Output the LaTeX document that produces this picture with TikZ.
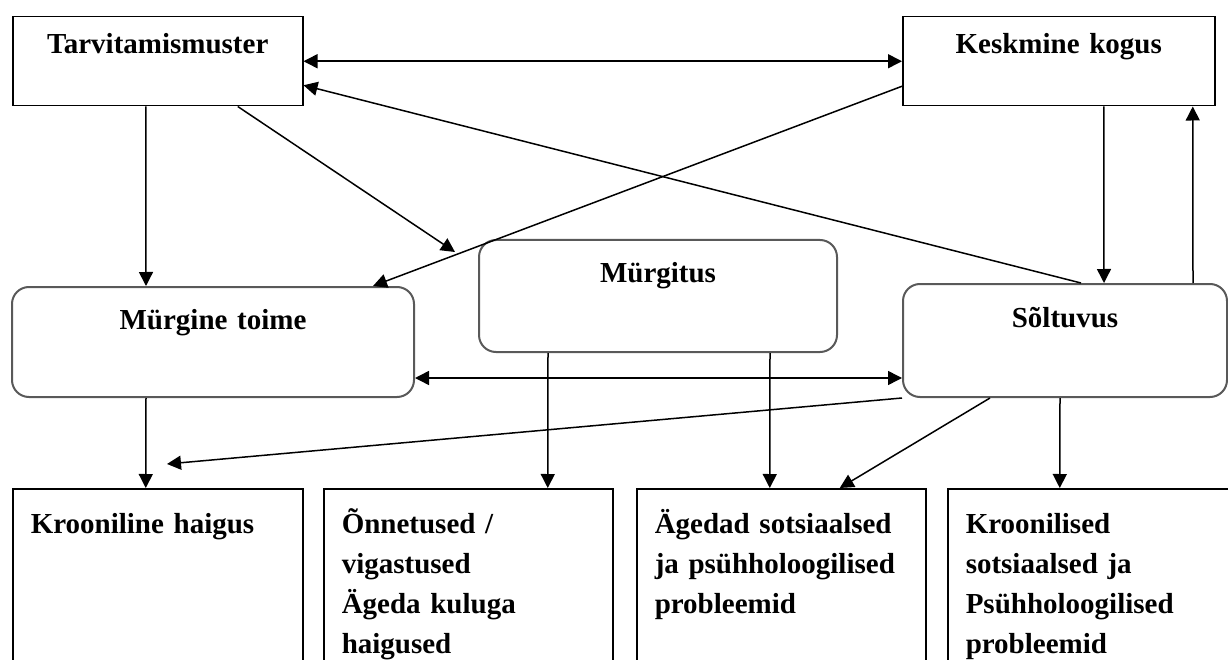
\documentclass[tikz,border=0pt]{standalone}
\usepackage{fontspec}
\setmainfont{Liberation Serif}
\usetikzlibrary{arrows.meta}

\begin{document}
\begin{tikzpicture}[x=1pt,y=-1pt,font=\fontsize{29}{40}\selectfont\bfseries,
	kast/.style={draw=black, line width=1.5pt, inner sep=0pt, anchor=north west},
	ymarkast/.style={draw=gray!70!black, line width=2pt, rounded corners=17pt, inner sep=0pt, anchor=north west, align=center},
	alakast/.style={kast, inner xsep=18pt, inner ysep=0pt, align=left, text height=45pt, text depth=200pt},
	nool/.style={line width=1.5pt, -{Triangle[length=14pt,width=14pt]}},
	kahenool/.style={line width=1.5pt, {Triangle[length=14pt,width=14pt]}-{Triangle[length=14pt,width=14pt]}}]
	\useasboundingbox (0,0) rectangle (1228,660);
	\clip (0,0) rectangle (1228,660);

	% Ylemised kastid
	\node[kast, text width=290pt, align=center, text height=37pt, text depth=52pt] (tarv) at (12,16) {Tarvitamismuster};
	\node[kast, text width=312pt, align=center, text height=37pt, text depth=52pt] (kesk) at (902,16) {Keskmine kogus};

	% Keskmised kastid
	\node[ymarkast, text width=402pt, text height=42pt, text depth=68pt] (toime) at (11,286) {Mürgine toime};
	\node[ymarkast, text width=358pt, text height=43pt, text depth=69pt] (myrg) at (478,239) {Mürgitus};
	\node[ymarkast, text width=324pt, text height=43pt, text depth=70pt] (solt) at (902,283) {Sõltuvus};

	% Alumised kastid
	\node[alakast, text width=254pt] (haigus) at (12,488) {Krooniline haigus};
	\node[alakast, text width=253pt] (onn) at (323,488) {Õnnetused /\\ vigastused\\ Ägeda kuluga\\ haigused};
	\node[alakast, text width=253pt] (aged) at (636,488) {Ägedad sotsiaalsed\\ ja psühholoogilised\\ probleemid};
	\node[alakast, text width=264pt] (kroon) at (947,488) {Kroonilised\\ sotsiaalsed ja\\ Psühholoogilised\\ probleemid};

	% Vabad otsad
	\coordinate (mtip) at (455,252);
	\coordinate (htip) at (167,464);

	% Nooled
	\draw[kahenool] (tarv.east) -- (kesk.west);
	\draw[nool] ([xshift=16pt]solt.north) -- ([yshift=-24pt]tarv.east);
	\draw[nool] ([yshift=-25pt]kesk.west) -- ([xshift=160pt]toime.north);
	\draw[nool] ([xshift=80pt]tarv.south) -- (mtip);
	\draw[nool] ([xshift=-12pt]tarv.south) -- ([xshift=-67pt]toime.north);
	\draw[nool] ([xshift=45pt]kesk.south) -- ([xshift=39pt]solt.north);
	\draw[nool] ([xshift=128pt]solt.north) -- ([xshift=134pt]kesk.south);
	\draw[kahenool] ([yshift=-36pt]toime.east) -- ([yshift=-37.5pt]solt.west);
	\draw[nool] ([xshift=-67pt]toime.south) -- ([xshift=-12pt]haigus.north);
	\draw[nool] (solt.south west) -- (htip);
	\draw[nool] ([xshift=-110pt]myrg.south) -- ([xshift=79.5pt]onn.north);
	\draw[nool] ([xshift=112pt]myrg.south) -- ([xshift=-11.5pt]aged.north);
	\draw[nool] ([xshift=88pt]solt.south west) -- ([xshift=58.5pt]aged.north);
	\draw[nool] ([xshift=-5pt]solt.south) -- ([xshift=-38pt]kroon.north);
\end{tikzpicture}
\end{document}
